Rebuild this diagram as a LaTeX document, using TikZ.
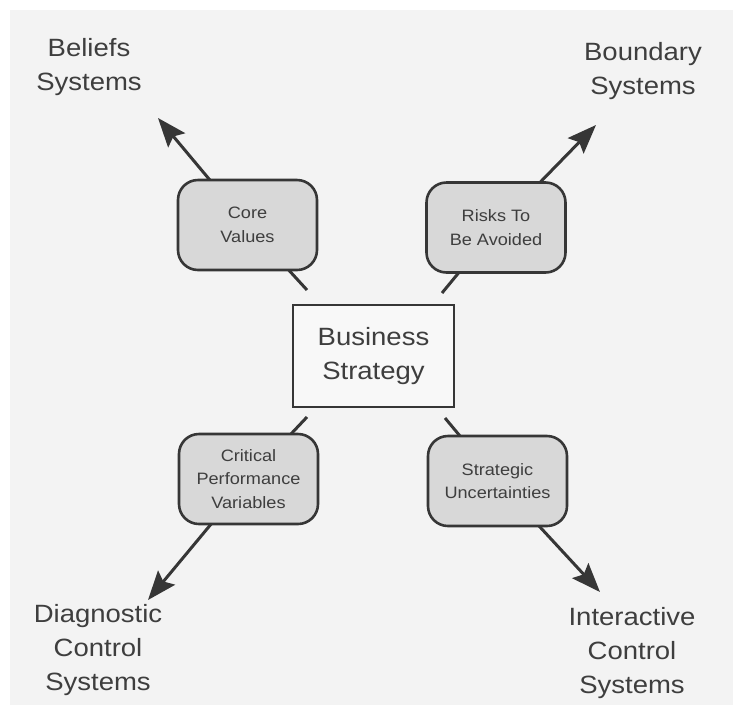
\documentclass[tikz,border=0pt]{standalone}
\usepackage{fontspec}
\setmainfont{Liberation Sans}[FakeStretch=1.1]
\usetikzlibrary{arrows.meta}
\pgfdeclarelayer{paperlayer}
\pgfdeclarelayer{links}
\pgfsetlayers{paperlayer,links,main}
\definecolor{ink}{HTML}{363636}
\definecolor{textgray}{HTML}{3E3E3E}
\definecolor{paper}{HTML}{F3F3F3}
\definecolor{boxfill}{HTML}{D8D8D8}
\definecolor{centerfill}{HTML}{F8F8F8}

\begin{document}
\begin{tikzpicture}[x=1pt,y=-1pt,
  every node/.style={text=textgray, inner sep=0pt},
  levelbox/.style={draw=ink, line width=2.6pt, fill=boxfill, rounded corners=20pt,
    minimum width=139pt, minimum height=90pt, align=center,
    font=\fontsize{16.5}{23.5}\selectfont},
  strategybox/.style={draw=ink, line width=2.6pt, fill=centerfill,
    minimum width=161pt, minimum height=102pt, align=center,
    font=\fontsize{25}{34}\selectfont},
  syslabel/.style={align=center, font=\fontsize{25}{34}\selectfont},
  link/.style={draw=ink, line width=3pt},
  arrowlink/.style={link, -{Stealth[length=29pt,width=22pt,inset=5pt]}}]

% page and scanned paper area
\useasboundingbox (0,0) rectangle (733,705);
\begin{pgfonlayer}{paperlayer}
  \fill[white] (0,0) rectangle (733,705);
  \fill[paper] (10,10) rectangle (733,705);
\end{pgfonlayer}

% central strategy
\node[strategybox] (strategy) at (373.5,356) {Business\\Strategy};

% the four levers
\node[levelbox] (core) at (247.5,225) {Core\\Values};
\node[levelbox] (risks) at (496,227.5) {Risks To\\Be Avoided};
\node[levelbox] (critical) at (248.5,479) {Critical\\Performance\\Variables};
\node[levelbox] (uncert) at (497.5,481) {Strategic\\Uncertainties};

% control systems
\node[syslabel] (beliefs) at (89,67) {Beliefs\\Systems};
\node[syslabel] (boundary) at (643,71) {Boundary\\Systems};
\node[syslabel] (diagnostic) at (98,650) {Diagnostic\\Control\\Systems};
\node[syslabel] (interactive) at (632,653) {Interactive\\Control\\Systems};

% ends of the links
\coordinate (coreIn) at (307,290);
\coordinate (risksIn) at (442,293);
\coordinate (criticalIn) at (307,417);
\coordinate (uncertIn) at (445,418);
\coordinate (beliefsTip) at (158,118);
\coordinate (boundaryTip) at (596,125);
\coordinate (diagnosticTip) at (148,600);
\coordinate (interactiveTip) at (600,592);

\begin{pgfonlayer}{links}
  \draw[link] (core.center) -- (coreIn);
  \draw[arrowlink] (core.center) -- (beliefsTip);
  \draw[link] (risks.center) -- (risksIn);
  \draw[arrowlink] (risks.center) -- (boundaryTip);
  \draw[link] (critical.center) -- (criticalIn);
  \draw[arrowlink] (critical.center) -- (diagnosticTip);
  \draw[link] (uncert.center) -- (uncertIn);
  \draw[arrowlink] (uncert.center) -- (interactiveTip);
\end{pgfonlayer}
\end{tikzpicture}
\end{document}
